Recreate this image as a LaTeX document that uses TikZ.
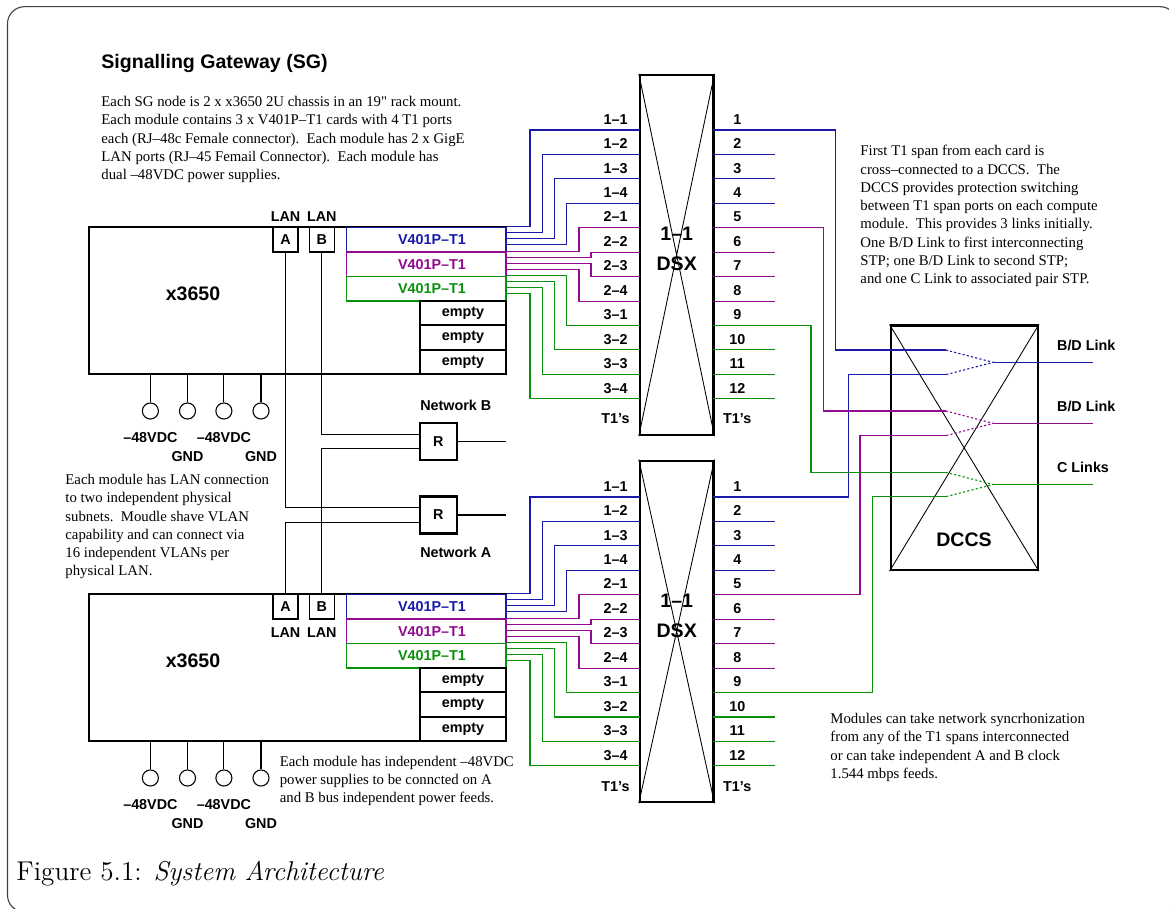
\documentclass[tikz,border=0pt]{standalone}
\usepackage{fontspec}
\usetikzlibrary{fit}
\newfontfamily\arialf{Liberation Sans}
\newfontfamily\timesf{Liberation Serif}
\definecolor{cblue}{RGB}{25,25,170}
\definecolor{cpurple}{RGB}{145,10,145}
\definecolor{cgreen}{RGB}{10,145,10}
\tikzset{
  lbl/.style={font=\arialf\bfseries\fontsize{6.6}{7}\selectfont,inner sep=0pt},
  biglbl/.style={font=\arialf\bfseries\fontsize{9}{10}\selectfont,inner sep=0pt},
  note/.style={font=\timesf\fontsize{6.8}{8.4}\selectfont,align=left,anchor=north west,inner sep=0pt},
  chassis/.style={draw,line width=1.1pt,inner sep=0pt},
  xbox/.style={draw,line width=1.1pt,inner sep=0pt},
  wire/.style={line width=0.5pt},
}
\begin{document}
\begin{tikzpicture}[x=0.46pt,y=-0.46pt]
\useasboundingbox (0,0) rectangle (1169,909);
\clip (0,0) rectangle (1169,909);
% frame and caption
\draw[black!75,line width=0.5pt,rounded corners=7.8pt] (7.5,6.7) rectangle (1177,912);
\node[anchor=base west,inner sep=0pt,font=\fontsize{12.5}{14}\selectfont] (cap) at (16,880.7) {Figure 5.1: \textit{System Architecture}};
% notes
\node[biglbl,anchor=base west] (title) at (101,69) {Signalling Gateway (SG)};
\node[note] (n1) at (101,96) {Each SG node is 2 x x3650 2U chassis in an 19" rack mount.\\
Each module contains 3 x V401P–T1 cards with 4 T1 ports\\
each (RJ–48c Female connector).\ \ Each module has 2 x GigE\\
LAN ports (RJ–45 Femail Connector).\ \ Each module has\\
dual –48VDC power supplies.};
\node[note] (n2) at (65,474) {Each module has LAN connection\\
to two independent physical\\
subnets.\ \ Moudle shave VLAN\\
capability and can connect via\\
16 independent VLANs per\\
physical LAN.};
\node[note] (n3) at (279.4,755.6) {Each module has independent –48VDC\\
power supplies to be conncted on A\\
and B bus independent power feeds.};
\node[note] (n4) at (860,145) {First T1 span from each card is\\
cross–connected to a DCCS.\ \ The\\
DCCS provides protection switching\\
between T1 span ports on each compute\\
module.\ \ This provides 3 links initially.\\
One B/D Link to first interconnecting\\
STP; one B/D Link to second STP;\\
and one C Link to associated pair STP.};
\node[note] (n5) at (830,713) {Modules can take network syncrhonization\\
from any of the T1 spans interconnected\\
or can take independent A and B clock\\
1.544 mbps feeds.};
% routers
\node[draw,line width=1pt,inner sep=0pt,minimum size=17pt,lbl] (rb) at (438.2,441.7) {R};
\node[draw,line width=1pt,inner sep=0pt,minimum size=17pt,lbl] (ra) at (438.2,515) {R};
\node[lbl] (netb) at (455.8,405.7) {Network B};
\node[lbl] (neta) at (455.8,552.7) {Network A};
\coordinate (nbo) at (505.7,441.7);
\coordinate (nao) at (505.7,515);
\draw[wire] (rb) -- (nbo);
\draw[wire] (ra) -- (nao);
% two modules with their DSX
\foreach \sg/\dy/\ly/\dt in {1/0/216.7/75,2/367/265.7/93.7}{
  \node[chassis,fit={(89,227+\dy)(506,374+\dy)}] (sg\sg) {};
  \node[biglbl] (xl\sg) at (193,294+\dy) {x3650};
  \node[draw,line width=0.5pt,inner sep=0pt,fit={(273,227+\dy)(298,252+\dy)}] (lana\sg) {};
  \node[draw,line width=0.5pt,inner sep=0pt,fit={(309.3,227+\dy)(334.3,252+\dy)}] (lanb\sg) {};
  \node[lbl] (lanai\sg) at (lana\sg.center) {A};
  \node[lbl] (lanbi\sg) at (lanb\sg.center) {B};
  \node[lbl] (lanat\sg) at (285.5,\ly+\dy) {LAN};
  \node[lbl] (lanbt\sg) at (321.8,\ly+\dy) {LAN};
  \foreach \crd/\col/\ya in {1/cblue/227.3,2/cpurple/252,3/cgreen/276.6}{
    \node[draw=\col,line width=0.6pt,inner sep=0pt,fit={(346.3,\ya+\dy)(506,\ya+24.5+\dy)}] (cd\sg\crd) {};
    \node[lbl,text=\col,xshift=2.7pt] (cdt\sg\crd) at (cd\sg\crd.center) {V401P–T1};
  }
  \foreach \sl/\ya in {1/301,2/325.7,3/350.3}{
    \node[draw,line width=0.7pt,inner sep=0pt,fit={(420,\ya+\dy)(506,\ya+24+\dy)}] (sl\sg\sl) {};
    \node[lbl] (slt\sg\sl) at (sl\sg\sl.center) {empty};
  }
  % power feeds
  \foreach \pw/\xp in {1/150.4,2/187.5,3/223.9,4/261}{
    \node[draw,circle,line width=0.5pt,inner sep=0pt,minimum size=7.4pt] (pw\sg\pw) at (\xp,411+\dy) {};
    \draw[wire] (pw\sg\pw |- sg\sg.south) -- (pw\sg\pw);
  }
  \node[lbl,anchor=base] (v1\sg) at (150.4,442.2+\dy) {–48VDC};
  \node[lbl,anchor=base] (v2\sg) at (223.9,442.2+\dy) {–48VDC};
  \node[lbl,anchor=base] (g1\sg) at (187.5,461.2+\dy) {GND};
  \node[lbl,anchor=base] (g2\sg) at (261,461.2+\dy) {GND};
  % DSX panel
  \node[xbox,fit={(640,\dt+\dy)(713.3,435+\dy)}] (dsx\sg) {};
  \draw[line width=0.4pt] (dsx\sg.north west) -- (dsx\sg.south east) (dsx\sg.north east) -- (dsx\sg.south west);
  \node[biglbl] (dn\sg) at (676.7,233.3+\dy) {1–1};
  \node[biglbl] (dt\sg) at (676.7,264+\dy) {DSX};
  \node[lbl,anchor=base east] (tl\sg) at (630,424+\dy) {T1’s};
  \node[lbl,anchor=base] (tr\sg) at (737.3,424+\dy) {T1’s};
  \foreach \row/\crd/\prt/\vx/\col in {1/1/1/530/cblue,2/1/2/542.3/cblue,3/1/3/554.3/cblue,4/1/4/566.7/cblue,
      5/2/1/579/cpurple,6/2/2/591/cpurple,7/2/3/591/cpurple,8/2/4/579/cpurple,
      9/3/1/566.7/cgreen,10/3/2/554.3/cgreen,11/3/3/542.3/cgreen,12/3/4/530/cgreen}{
    \coordinate (dw\sg r\row) at (640,130+\row*24.44-24.44+\dy);
    \coordinate (de\sg r\row) at (713.3,130+\row*24.44-24.44+\dy);
    \coordinate (ds\sg r\row) at (775,130+\row*24.44-24.44+\dy);
    \node[lbl,anchor=base east] (pl\sg r\row) at (628,124.2+\row*24.44-24.44+\dy) {\crd–\prt};
    \node[lbl,anchor=base] (pr\sg r\row) at (737.3,124.2+\row*24.44-24.44+\dy) {\row};
    \draw[wire,\col] ([yshift={-(\prt-1)*2.76pt}]cd\sg\crd.north east) -| (\vx,0 |- dw\sg r\row) -- (dw\sg r\row);
    \draw[wire,\col] (de\sg r\row) -- (ds\sg r\row);
  }
}
% LAN links to routers
\draw[wire] (lanb1.south) |- (rb.160);
\draw[wire] (lanb2.north) |- (rb.200);
\draw[wire] (lana1.south) |- (ra.160);
\draw[wire] (lana2.north) |- (ra.200);
% DCCS
\node[xbox,fit={(890.7,325.7)(1037.7,570)}] (dccs) {};
\draw[line width=0.4pt] (dccs.north west) -- (dccs.south east) (dccs.north east) -- (dccs.south west);
\node[biglbl] (dccst) at (964,539.3) {DCCS};
\foreach \lk/\rr/\ya/\yb/\xu/\xl/\col/\txt in {1/1/350/374.7/835.7/848.3/cblue/B\slash D Link,
    2/5/411/435.7/823.5/860/cpurple/B\slash D Link,3/9/472.3/496.7/811/872.3/cgreen/C Links}{
  \coordinate (ia\lk) at (945.7,\ya);
  \coordinate (ib\lk) at (945.7,\yb);
  \coordinate (mg\lk) at (993.3,{(\ya+\yb)/2});
  \coordinate (out\lk) at (1092.7,{(\ya+\yb)/2});
  \node[lbl,anchor=base west] (ln\lk) at (1056.7,{(\ya+\yb)/2-12}) {\txt};
  \draw[wire,\col] (de1r\rr) -| (\xu,0 |- ia\lk) -- (ia\lk);
  \draw[wire,\col] (de2r\rr) -| (\xl,0 |- ib\lk) -- (ib\lk);
  \draw[wire,\col,dash pattern=on 1pt off 1pt] (ia\lk) -- (mg\lk) -- (ib\lk);
  \draw[wire,\col] (mg\lk) -- (out\lk);
}
\end{tikzpicture}
\end{document}
